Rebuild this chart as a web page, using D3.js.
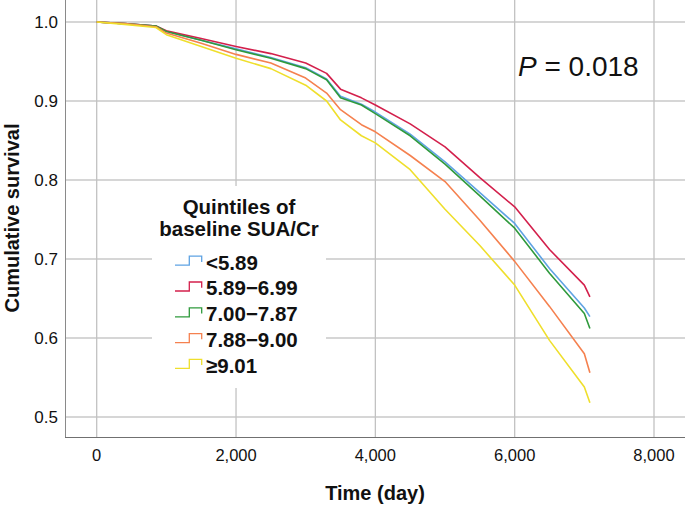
<!DOCTYPE html>
<html>
<head>
<meta charset="utf-8">
<script src="https://cdn.jsdelivr.net/npm/d3@7"></script>
<style>
  html, body { margin: 0; padding: 0; background: #fff; }
  svg { display: block; font-family: "Liberation Sans", Arial, Helvetica, sans-serif; }
</style>
</head>
<body>
<svg id="chart" width="685" height="506"></svg>
<script>
// ---- Data ----
const times = [0, 400, 850, 1000, 1500, 2000, 2500, 3000, 3300, 3500, 3800, 4000, 4500, 5000, 5500, 6000, 6500, 7000, 7080];
const seriesNames = ["<5.89", "5.89\u22126.99", "7.00\u22127.87", "7.88\u22129.00", "\u22659.01"];
const seriesColors = ["#5fa3e3", "#d3204c", "#2f9a3c", "#f5814f", "#efdf2c"];
const survQ1 = [1.000, 0.998, 0.995, 0.988, 0.977, 0.966, 0.955, 0.942, 0.928, 0.906, 0.896, 0.886, 0.858, 0.823, 0.784, 0.745, 0.688, 0.638, 0.627];
const survQ2 = [1.000, 0.998, 0.995, 0.989, 0.979, 0.969, 0.960, 0.948, 0.935, 0.915, 0.904, 0.895, 0.871, 0.842, 0.803, 0.766, 0.712, 0.667, 0.652];
const survQ3 = [1.000, 0.998, 0.995, 0.988, 0.977, 0.965, 0.954, 0.941, 0.927, 0.904, 0.895, 0.884, 0.856, 0.820, 0.780, 0.739, 0.682, 0.631, 0.612];
const survQ4 = [1.000, 0.998, 0.994, 0.986, 0.973, 0.959, 0.948, 0.929, 0.910, 0.889, 0.870, 0.861, 0.831, 0.798, 0.749, 0.697, 0.640, 0.580, 0.556];
const survQ5 = [1.000, 0.997, 0.993, 0.984, 0.969, 0.954, 0.941, 0.920, 0.900, 0.876, 0.856, 0.847, 0.813, 0.763, 0.717, 0.667, 0.597, 0.538, 0.518];
const xTicks = [0, 2000, 4000, 6000, 8000];
const yTicks = [0.5, 0.6, 0.7, 0.8, 0.9, 1.0];
const legendTitle = ["Quintiles of", "baseline SUA/Cr"];
const pText = "0.018";

const allSeries = [survQ1, survQ2, survQ3, survQ4, survQ5];

// ---- Layout ----
const svg = d3.select("#chart");
const axisLeft = 65, axisBottom = 437, plotRight = 685, plotTop = 0;
const x = d3.scaleLinear().domain([0, 8000]).range([96.7, 654]);
const y = d3.scaleLinear().domain([0.5, 1.0]).range([417, 22]);

// gridlines
svg.append("g").selectAll("line").data(yTicks).join("line")
  .attr("x1", axisLeft).attr("x2", plotRight)
  .attr("y1", d => y(d)).attr("y2", d => y(d))
  .attr("stroke", "#d6d6d6").attr("stroke-width", 2);
svg.append("g").selectAll("line").data(xTicks).join("line")
  .attr("x1", d => x(d)).attr("x2", d => x(d))
  .attr("y1", plotTop).attr("y2", axisBottom)
  .attr("stroke", "#c2c2c2").attr("stroke-width", 1.3);

// axes lines
svg.append("line").attr("x1", axisLeft + 0.5).attr("x2", axisLeft + 0.5)
  .attr("y1", plotTop).attr("y2", axisBottom).attr("stroke", "#8a8a8a").attr("stroke-width", 1);
svg.append("line").attr("x1", axisLeft).attr("x2", plotRight)
  .attr("y1", axisBottom + 0.5).attr("y2", axisBottom + 0.5).attr("stroke", "#707070").attr("stroke-width", 1);

// tick labels
svg.append("g").selectAll("text").data(yTicks).join("text")
  .attr("x", 58).attr("y", d => y(d) + 6)
  .attr("text-anchor", "end").attr("font-size", 17).attr("fill", "#111")
  .text(d => d3.format(".1f")(d));
svg.append("g").selectAll("text").data(xTicks).join("text")
  .attr("x", d => x(d)).attr("y", 461)
  .attr("text-anchor", "middle").attr("font-size", 16.5).attr("fill", "#111")
  .text(d => d3.format(",")(d));

// axis titles
svg.append("text").attr("x", 375).attr("y", 500)
  .attr("text-anchor", "middle").attr("font-size", 20).attr("font-weight", "bold").attr("fill", "#111")
  .text("Time (day)");
svg.append("text").attr("transform", "translate(19,218) rotate(-90)")
  .attr("text-anchor", "middle").attr("font-size", 20).attr("font-weight", "bold").attr("fill", "#111")
  .text("Cumulative survival");

// legend background (covers gridlines)
svg.append("rect").attr("x", 152).attr("y", 186).attr("width", 174).attr("height", 202).attr("fill", "#fff");

// curves
const line = d3.line().x((d, i) => x(times[i])).y(d => y(d)).curve(d3.curveLinear);
svg.append("g").selectAll("path").data(allSeries).join("path")
  .attr("d", d => line(d))
  .attr("fill", "none")
  .attr("stroke", (d, i) => seriesColors[i])
  .attr("stroke-width", 1.6)
  .attr("stroke-linejoin", "round");

// legend
const lg = svg.append("g");
lg.selectAll("text.title").data(legendTitle).join("text").attr("class", "title")
  .attr("x", 239).attr("y", (d, i) => 214 + i * 21.5)
  .attr("text-anchor", "middle").attr("font-size", 20.5).attr("font-weight", "bold").attr("fill", "#111")
  .text(d => d);
const items = lg.selectAll("g.item").data(seriesNames).join("g").attr("class", "item")
  .attr("transform", (d, i) => `translate(0, ${269.5 + i * 25.8})`);
items.append("path")
  .attr("d", "M175,-4.3 H189.3 V-13.3 H201.7 V-7.6")
  .attr("fill", "none")
  .attr("stroke", (d, i) => seriesColors[i]).attr("stroke-width", 1.3);
items.append("text").attr("x", 206).attr("y", 0)
  .attr("font-size", 20.5).attr("font-weight", "bold").attr("fill", "#111")
  .text(d => d);

// P value
const pt = svg.append("text").attr("x", 518).attr("y", 76).attr("font-size", 28).attr("fill", "#111");
pt.append("tspan").attr("font-style", "italic").text("P");
pt.append("tspan").text(" = " + pText);
</script>
</body>
</html>
